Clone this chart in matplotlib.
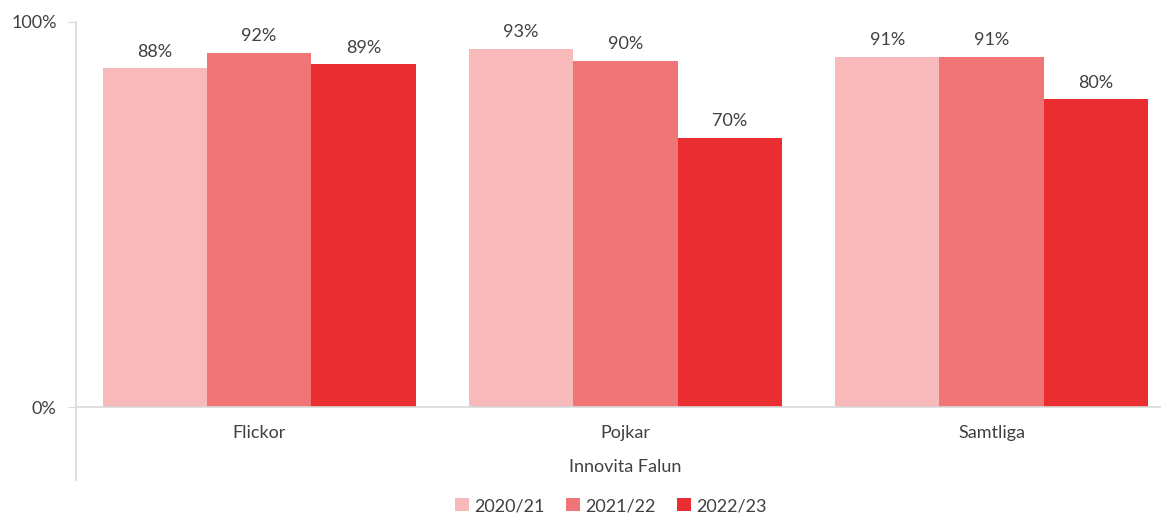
import matplotlib.pyplot as plt
import numpy as np

categories = ['Flickor', 'Pojkar', 'Samtliga']
seasons = ['2020/21', '2021/22', '2022/23']
values_2020 = [0.88, 0.93, 0.91]
values_2021 = [0.92, 0.90, 0.91]
values_2022 = [0.89, 0.70, 0.80]
colors = ['#F8B9BA', '#F07576', '#E92D31']

plt.rcParams['font.family'] = ['Lato', 'DejaVu Sans']
text_color = '#404040'
line_color = '#D9D9D9'

fig = plt.figure(figsize=(11.62, 5.15), dpi=100)
ax = fig.add_axes([76 / 1162, 1 - 407 / 515, (1160 - 76) / 1162, (407 - 22) / 515])

x = np.arange(len(categories))
width = 0.285
series = [values_2020, values_2021, values_2022]
for i, (vals, col, lab) in enumerate(zip(series, colors, seasons)):
    bars = ax.bar(x + (i - 1) * width, vals, width, color=col, label=lab, linewidth=0)
    for b, v in zip(bars, vals):
        ax.text(b.get_x() + b.get_width() / 2, v + 0.022, f'{v * 100:.0f}%',
                ha='center', va='bottom', fontsize=13, color=text_color)

ax.set_xlim(-0.5, 2.46)
ax.set_ylim(0, 1)
ax.set_yticks([0, 1])
ax.set_yticklabels(['0%', '100%'])
ax.set_xticks([])
ax.tick_params(axis='y', length=6, color=line_color, labelcolor=text_color, labelsize=13, pad=8)

for s in ['top', 'right', 'left']:
    ax.spines[s].set_visible(False)
ax.spines['bottom'].set_color(line_color)
ax.spines['bottom'].set_linewidth(1.2)

# vertical axis line extends down through the category area
ax.plot([-0.5, -0.5], [1, -0.19], color=line_color, lw=1.2, clip_on=False, zorder=0)

for xi, c in zip(x, categories):
    ax.text(xi, -0.068, c, ha='center', va='center', fontsize=13, color=text_color)
ax.text(x[1], -0.155, 'Innovita Falun', ha='center', va='center', fontsize=13, color=text_color)

leg = fig.legend(loc='center', bbox_to_anchor=(611 / 1162, 1 - 506 / 515), ncol=3, frameon=False,
                 fontsize=13, handlelength=0.75, handleheight=0.75, handletextpad=0.3, columnspacing=1.2)
for t in leg.get_texts():
    t.set_color(text_color)

fig.savefig('out.png', dpi=100)
